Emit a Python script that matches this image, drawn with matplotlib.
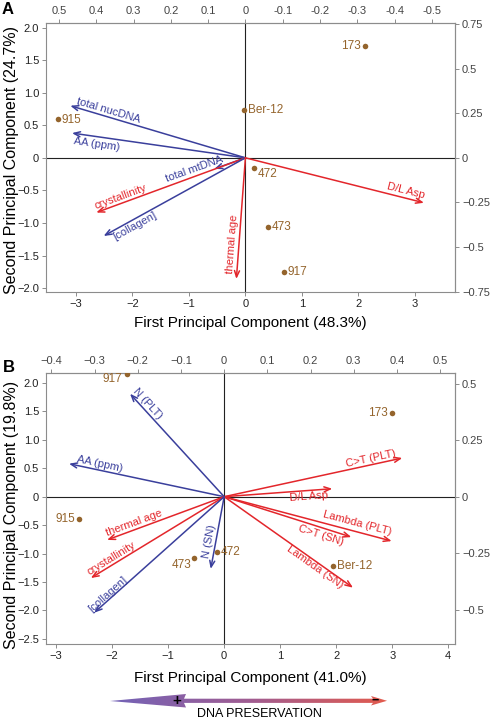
import numpy as np
import matplotlib
matplotlib.use('Agg')
import matplotlib.pyplot as plt
from matplotlib.ticker import FixedLocator, FuncFormatter
from matplotlib.patches import Polygon
from matplotlib.colors import LinearSegmentedColormap

plt.rcParams['font.family'] = ['Liberation Sans', 'DejaVu Sans']

BLUE = '#3a3f9c'
RED = '#e3262b'
BROWN = '#94642c'
GRAY = '#8c8c8c'

# ---------------- Panel A data ----------------
a_samples = ['173', 'Ber-12', '915', '472', '473', '917']
a_pc1 = [2.12, -0.02, -3.32, 0.16, 0.40, 0.68]
a_pc2 = [1.72, 0.73, 0.59, -0.15, -1.06, -1.76]
a_vars = ['total nucDNA', 'AA (ppm)', 'total mtDNA', 'crystallinity', '[collagen]', 'thermal age', 'D/L Asp']
a_var_x = [-3.10, -3.07, -0.55, -2.64, -2.51, -0.16, 3.16]
a_var_y = [0.80, 0.38, -0.17, -0.84, -1.20, -1.86, -0.69]
a_var_group = ['b', 'b', 'b', 'r', 'b', 'r', 'r']
a_xticks = [-3, -2, -1, 0, 1, 2, 3]
a_yticks = [-2.0, -1.5, -1.0, -0.5, 0, 0.5, 1.0, 1.5, 2.0]
a_top_ticks = [0.5, 0.4, 0.3, 0.2, 0.1, 0, -0.1, -0.2, -0.3, -0.4, -0.5]
a_right_ticks = [-0.75, -0.5, -0.25, 0, 0.25, 0.5, 0.75]
a_xlabel = 'First Principal Component (48.3%)'
a_ylabel = 'Second Principal Component (24.7%)'

# ---------------- Panel B data ----------------
b_samples = ['917', '173', '915', '473', '472', 'Ber-12']
b_pc1 = [-1.74, 3.00, -2.59, -0.53, -0.13, 1.95]
b_pc2 = [2.15, 1.48, -0.40, -1.08, -0.98, -1.21]
b_vars = ['N (PLT)', 'AA (ppm)', 'C>T (PLT)', 'D/L Asp', 'Lambda (PLT)', 'C>T (SN)',
          'Lambda (SN)', 'thermal age', 'crystallinity', '[collagen]', 'N (SN)']
b_var_x = [-1.68, -2.77, 3.18, 1.93, 2.99, 2.27, 2.30, -2.09, -2.38, -2.32, -0.24]
b_var_y = [1.81, 0.58, 0.68, 0.14, -0.78, -0.71, -1.60, -0.76, -1.43, -2.04, -1.27]
b_var_group = ['b', 'b', 'r', 'r', 'r', 'r', 'r', 'r', 'r', 'b', 'b']
b_xticks = [-3, -2, -1, 0, 1, 2, 3, 4]
b_yticks = [-2.5, -2.0, -1.5, -1.0, -0.5, 0, 0.5, 1.0, 1.5, 2.0]
b_top_ticks = [-0.4, -0.3, -0.2, -0.1, 0, 0.1, 0.2, 0.3, 0.4, 0.5]
b_right_ticks = [-0.5, -0.25, 0, 0.25, 0.5]
b_xlabel = 'First Principal Component (41.0%)'
b_ylabel = 'Second Principal Component (19.8%)'

# ---------------- styling / layout ----------------
W, H = 490, 719
fig = plt.figure(figsize=(W / 100, H / 100), dpi=100)


def rect(l, t, r, b):
    return [l / W, 1 - b / H, (r - l) / W, (b - t) / H]


def fmt_dec(v, p):
    if abs(v) < 1e-9:
        return '0'
    return f'{v:.1f}'.replace('-', '\u2212')


def fmt_g(v, p):
    if abs(v) < 1e-9:
        return '0'
    return f'{v:g}'.replace('-', '\u2212')


def fmt_hyphen(v, p):
    if abs(v) < 1e-9:
        return '0'
    return f'{v:g}'


def draw_panel(ax, xlim, ylim, xticks, yticks, pc1, pc2, samples, sample_pos,
               vx, vy, vnames, vgroup, vlab, top_scale, top_ticks, top_fmt,
               right_scale, right_ticks, xlabel, ylabel, xlab_y, ylab_y):
    ax.set_xlim(*xlim)
    ax.set_ylim(*ylim)
    for s in ax.spines.values():
        s.set_color(GRAY)
        s.set_linewidth(0.8)
    ax.axhline(0, color='#222222', lw=0.8, zorder=1)
    ax.axvline(0, color='#222222', lw=0.8, zorder=1)
    ax.xaxis.set_major_locator(FixedLocator(xticks))
    ax.yaxis.set_major_locator(FixedLocator(yticks))
    ax.xaxis.set_major_formatter(FuncFormatter(fmt_g))
    ax.yaxis.set_major_formatter(FuncFormatter(fmt_dec))
    ax.tick_params(direction='out', length=3, width=0.7, color=GRAY,
                   labelsize=8, labelcolor='#222222', pad=2)
    ax.set_xlabel(xlabel, fontsize=11, va='center')
    ax.set_ylabel(ylabel, fontsize=11.5, va='center')
    ax.xaxis.set_label_coords(0.5, xlab_y)
    ax.yaxis.set_label_coords(-0.084, ylab_y)

    sx = ax.secondary_xaxis('top', functions=(lambda x: x / top_scale, lambda x: x * top_scale))
    sx.xaxis.set_major_locator(FixedLocator(top_ticks))
    sx.xaxis.set_major_formatter(FuncFormatter(top_fmt))
    sx.tick_params(direction='out', length=3, width=0.7, color=GRAY,
                   labelsize=8, labelcolor='#444444', pad=2)
    sx.spines['top'].set_color(GRAY)
    sy = ax.secondary_yaxis('right', functions=(lambda y: y / right_scale, lambda y: y * right_scale))
    sy.yaxis.set_major_locator(FixedLocator(right_ticks))
    sy.yaxis.set_major_formatter(FuncFormatter(fmt_g))
    sy.tick_params(direction='out', length=3, width=0.7, color=GRAY,
                   labelsize=8, labelcolor='#444444', pad=2)
    sy.spines['right'].set_color(GRAY)

    # samples
    ax.scatter(pc1, pc2, s=16, color=BROWN, zorder=4, linewidths=0)
    for x, y, name, (dx, dy, ha) in zip(pc1, pc2, samples, sample_pos):
        ax.annotate(name, (x, y), xytext=(dx, dy), textcoords='offset pixels',
                    ha=ha, va='center', fontsize=8.5, color=BROWN, zorder=5)

    # variable arrows
    tr = ax.transData
    inv = tr.inverted()
    p0 = tr.transform((0, 0))
    for x, y, name, g, (t, off) in zip(vx, vy, vnames, vgroup, vlab):
        c = BLUE if g == 'b' else RED
        ax.annotate('', xy=(x, y), xytext=(0, 0),
                    arrowprops=dict(arrowstyle='->,head_length=0.45,head_width=0.18',
                                    color=c, lw=1.1, shrinkA=0, shrinkB=0), zorder=3)
        p1 = tr.transform((x, y))
        d = p1 - p0
        ang = np.degrees(np.arctan2(d[1], d[0]))
        if ang > 90:
            ang -= 180
        elif ang < -90:
            ang += 180
        a = np.radians(ang)
        nrm = np.array([-np.sin(a), np.cos(a)])
        pos = p0 + t * d + off * nrm
        lx, ly = inv.transform(pos)
        ax.text(lx, ly, name, rotation=ang, rotation_mode='anchor', ha='center',
                va='center', fontsize=8, color=c, zorder=5)


axA = fig.add_axes(rect(46, 23, 455, 292))
a_sample_pos = [(-4, 0, 'right'), (4, 0, 'left'), (4, -1, 'left'), (3, -6, 'left'),
                (4, 0, 'left'), (4, 0, 'left')]
a_var_lab = [(0.79, 6), (0.85, -8), (1.57, 6), (0.82, 6.5), (0.8, -7), (0.72, 7), (0.89, 7.5)]
draw_panel(axA, (-3.53, 3.71), (-2.06, 2.07), a_xticks, a_yticks, a_pc1, a_pc2,
           a_samples, a_sample_pos, a_var_x, a_var_y, a_vars, a_var_group, a_var_lab,
           -6.60, a_top_ticks, fmt_hyphen, 2.742, a_right_ticks, a_xlabel, a_ylabel, -0.115, 0.49)

axB = fig.add_axes(rect(46, 372.7, 455, 644))
b_sample_pos = [(-4, -5, 'right'), (-4, 0, 'right'), (-4, 0, 'right'), (-3, -7, 'right'),
                (4, 0, 'left'), (4, 0, 'left')]
b_var_lab = [(0.86, 6), (0.81, 6), (0.83, 6.5), (0.78, -6), (0.78, 8), (0.78, -7),
             (0.73, -5), (0.75, 6), (0.82, 6.3), (0.87, 5), (0.64, 6)]
draw_panel(axB, (-3.18, 4.12), (-2.59, 2.18), b_xticks, b_yticks, b_pc1, b_pc2,
           b_samples, b_sample_pos, b_var_x, b_var_y, b_vars, b_var_group, b_var_lab,
           7.71, b_top_ticks, fmt_g, 3.967, b_right_ticks, b_xlabel, b_ylabel, -0.125, 0.475)

# panel letters
fig.text(8 / W, 1 - 9 / H, 'A', fontsize=12, fontweight='bold', ha='center', va='center')
fig.text(9 / W, 1 - 368 / H, 'B', fontsize=12, fontweight='bold', ha='center', va='center')

# gradient "DNA PRESERVATION" arrow
axG = fig.add_axes([0, 0, 1, 1])
axG.set_xlim(0, W)
axG.set_ylim(H, 0)
axG.axis('off')
verts = [(110, 701), (186, 694), (184, 698.7), (373, 698.7), (371, 696), (387, 700.8),
         (371, 705.5), (373, 702.9), (184, 702.9), (186, 707.5)]
poly = Polygon(verts, closed=True, facecolor='none', edgecolor='none')
axG.add_patch(poly)
cmap = LinearSegmentedColormap.from_list('pres', ['#7263b8', '#a05d92', '#e45a4c'])
grad = np.linspace(0, 1, 256).reshape(1, -1)
im = axG.imshow(grad, cmap=cmap, extent=(108, 389, 709, 692), aspect='auto', zorder=2)
im.set_clip_path(poly)
axG.set_xlim(0, W)
axG.set_ylim(H, 0)
axG.text(177.3, 700.5, '+', fontsize=11, fontweight='bold', ha='center', va='center', zorder=3)
axG.text(375, 700.2, '\u2212', fontsize=9, fontweight='bold', ha='center', va='center', zorder=3)
axG.text(259, 714.3, 'DNA PRESERVATION', fontsize=9, ha='center', va='center')

fig.savefig('out.png', dpi=100)
